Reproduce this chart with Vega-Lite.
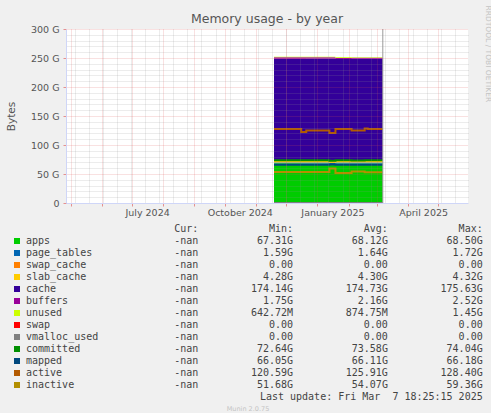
{
  "$schema": "https://vega.github.io/schema/vega-lite/v6.json",
  "background": "#F0F0F0",
  "padding": {"left": 6, "top": 5, "right": 0, "bottom": 0},
  "config": {"view": {"stroke": null}, "font": "DejaVu Sans"},
  "spacing": 7,
  "datasets": {
    "mem": [
      {"date": "2024-11-19", "apps": 68.4, "page_tables": 1.60, "swap_cache": 0, "slab_cache": 4.30, "cache": 174.5, "buffers": 2.50, "unused": 0.80, "swap": 0, "vmalloc_used": 0, "committed": 73.9, "mapped": 66.10, "active": 127.4, "inactive": 53.5},
      {"date": "2024-12-16", "apps": 68.3, "page_tables": 1.65, "swap_cache": 0, "slab_cache": 4.30, "cache": 174.6, "buffers": 2.45, "unused": 0.90, "swap": 0, "vmalloc_used": 0, "committed": 73.7, "mapped": 66.05, "active": 122.6, "inactive": 53.5},
      {"date": "2024-12-21", "apps": 68.2, "page_tables": 1.62, "swap_cache": 0, "slab_cache": 4.31, "cache": 174.8, "buffers": 2.40, "unused": 0.80, "swap": 0, "vmalloc_used": 0, "committed": 73.5, "mapped": 66.10, "active": 125.2, "inactive": 53.5},
      {"date": "2025-01-13", "apps": 67.4, "page_tables": 1.72, "swap_cache": 0, "slab_cache": 4.32, "cache": 175.6, "buffers": 2.30, "unused": 0.70, "swap": 0, "vmalloc_used": 0, "committed": 72.7, "mapped": 66.18, "active": 120.6, "inactive": 59.3},
      {"date": "2025-01-19", "apps": 68.1, "page_tables": 1.64, "swap_cache": 0, "slab_cache": 4.29, "cache": 174.3, "buffers": 1.85, "unused": 1.20, "swap": 0, "vmalloc_used": 0, "committed": 73.6, "mapped": 66.10, "active": 127.4, "inactive": 51.7},
      {"date": "2025-02-04", "apps": 68.0, "page_tables": 1.62, "swap_cache": 0, "slab_cache": 4.30, "cache": 174.8, "buffers": 1.80, "unused": 0.90, "swap": 0, "vmalloc_used": 0, "committed": 73.4, "mapped": 66.10, "active": 125.2, "inactive": 54.5},
      {"date": "2025-02-17", "apps": 68.2, "page_tables": 1.66, "swap_cache": 0, "slab_cache": 4.30, "cache": 174.6, "buffers": 1.80, "unused": 0.80, "swap": 0, "vmalloc_used": 0, "committed": 73.8, "mapped": 66.10, "active": 128.4, "inactive": 53.2},
      {"date": "2025-02-20", "apps": 68.1, "page_tables": 1.64, "swap_cache": 0, "slab_cache": 4.30, "cache": 174.7, "buffers": 1.80, "unused": 0.90, "swap": 0, "vmalloc_used": 0, "committed": 73.6, "mapped": 66.10, "active": 127.4, "inactive": 53.2},
      {"date": "2025-03-07", "apps": 68.1, "page_tables": 1.64, "swap_cache": 0, "slab_cache": 4.30, "cache": 174.7, "buffers": 1.80, "unused": 0.90, "swap": 0, "vmalloc_used": 0, "committed": 73.6, "mapped": 66.10, "active": 127.4, "inactive": 53.2}
    ],
    "now": [{"date": "2025-03-07"}],
    "legend": [
      {"series": "apps", "Cur": "-nan\u00a0", "Min": "67.31G", "Avg": "68.12G", "Max": "68.50G"},
      {"series": "page_tables", "Cur": "-nan\u00a0", "Min": "1.59G", "Avg": "1.64G", "Max": "1.72G"},
      {"series": "swap_cache", "Cur": "-nan\u00a0", "Min": "0.00\u00a0", "Avg": "0.00\u00a0", "Max": "0.00\u00a0"},
      {"series": "slab_cache", "Cur": "-nan\u00a0", "Min": "4.28G", "Avg": "4.30G", "Max": "4.32G"},
      {"series": "cache", "Cur": "-nan\u00a0", "Min": "174.14G", "Avg": "174.73G", "Max": "175.63G"},
      {"series": "buffers", "Cur": "-nan\u00a0", "Min": "1.75G", "Avg": "2.16G", "Max": "2.52G"},
      {"series": "unused", "Cur": "-nan\u00a0", "Min": "642.72M", "Avg": "874.75M", "Max": "1.45G"},
      {"series": "swap", "Cur": "-nan\u00a0", "Min": "0.00\u00a0", "Avg": "0.00\u00a0", "Max": "0.00\u00a0"},
      {"series": "vmalloc_used", "Cur": "-nan\u00a0", "Min": "0.00\u00a0", "Avg": "0.00\u00a0", "Max": "0.00\u00a0"},
      {"series": "committed", "Cur": "-nan\u00a0", "Min": "72.64G", "Avg": "73.58G", "Max": "74.04G"},
      {"series": "mapped", "Cur": "-nan\u00a0", "Min": "66.05G", "Avg": "66.11G", "Max": "66.18G"},
      {"series": "active", "Cur": "-nan\u00a0", "Min": "120.59G", "Avg": "125.91G", "Max": "128.40G"},
      {"series": "inactive", "Cur": "-nan\u00a0", "Min": "51.68G", "Avg": "54.07G", "Max": "59.36G"}
    ],
    "header": [
      {"col": "Cur", "text": "Cur:\u00a0\u00a0"},
      {"col": "Min", "text": "Min:\u00a0\u00a0"},
      {"col": "Avg", "text": "Avg:\u00a0\u00a0"},
      {"col": "Max", "text": "Max:\u00a0\u00a0"}
    ],
    "footer": [{"text": "Last update: Fri Mar\u00a0\u00a07 18:25:15 2025"}]
  },
  "vconcat": [
    {
      "width": 402,
      "height": 174,
      "view": {"fill": "#FFFFFF", "stroke": null},
      "title": {"text": "Memory usage - by year", "font": "DejaVu Sans", "fontSize": 12.5, "fontWeight": "normal", "color": "#555555", "anchor": "middle", "offset": 4, "dy": 24},
      "layer": [
        {
          "data": {"name": "mem"},
          "transform": [
            {"fold": ["apps", "page_tables", "swap_cache", "slab_cache", "cache", "buffers", "unused", "swap"], "as": ["series", "value"]},
            {"window": [{"op": "row_number", "as": "stack_rank"}], "groupby": ["date"]}
          ],
          "mark": {"type": "area", "interpolate": "step-after"},
          "encoding": {
            "x": {"field": "date", "type": "temporal",
              "scale": {"type": "utc", "domain": [{"year": 2024, "month": 4, "date": 26, "hours": 12, "utc": true}, {"year": 2025, "month": 5, "date": 30, "hours": 14, "utc": true}]},
              "axis": {"orient": "bottom", "title": null, "labels": false, "ticks": false, "domain": false, "grid": true, "gridColor": "#8F8F8F", "gridOpacity": 0.35, "gridDash": [1, 1], "zindex": 1,
                "values": [
                  {"year": 2024, "month": 5, "date": 5, "utc": true}, {"year": 2024, "month": 5, "date": 19, "utc": true},
                  {"year": 2024, "month": 6, "date": 2, "utc": true}, {"year": 2024, "month": 6, "date": 16, "utc": true},
                  {"year": 2024, "month": 6, "date": 30, "utc": true}, {"year": 2024, "month": 7, "date": 14, "utc": true},
                  {"year": 2024, "month": 7, "date": 28, "utc": true}, {"year": 2024, "month": 8, "date": 11, "utc": true},
                  {"year": 2024, "month": 8, "date": 25, "utc": true}, {"year": 2024, "month": 9, "date": 8, "utc": true},
                  {"year": 2024, "month": 9, "date": 22, "utc": true}, {"year": 2024, "month": 10, "date": 6, "utc": true},
                  {"year": 2024, "month": 10, "date": 20, "utc": true}, {"year": 2024, "month": 11, "date": 3, "utc": true},
                  {"year": 2024, "month": 11, "date": 17, "utc": true}, {"year": 2024, "month": 12, "date": 1, "utc": true},
                  {"year": 2024, "month": 12, "date": 15, "utc": true}, {"year": 2024, "month": 12, "date": 29, "utc": true},
                  {"year": 2025, "month": 1, "date": 12, "utc": true}, {"year": 2025, "month": 1, "date": 26, "utc": true},
                  {"year": 2025, "month": 2, "date": 9, "utc": true}, {"year": 2025, "month": 2, "date": 23, "utc": true},
                  {"year": 2025, "month": 3, "date": 9, "utc": true}, {"year": 2025, "month": 3, "date": 23, "utc": true},
                  {"year": 2025, "month": 4, "date": 6, "utc": true}, {"year": 2025, "month": 4, "date": 20, "utc": true},
                  {"year": 2025, "month": 5, "date": 4, "utc": true}, {"year": 2025, "month": 5, "date": 18, "utc": true}
                ]}},
            "y": {"field": "value", "type": "quantitative", "stack": "zero",
              "scale": {"domain": [0, 300], "nice": false},
              "axis": {"orient": "right", "labels": false, "ticks": false, "domain": false, "grid": true, "gridColor": "#8F8F8F", "gridOpacity": 0.35, "gridDash": [1, 1], "zindex": 1,
                "values": [10, 20, 30, 40, 60, 70, 80, 90, 110, 120, 130, 140, 160, 170, 180, 190, 210, 220, 230, 240, 260, 270, 280, 290],
                "title": "RRDTOOL / TOBI OETIKER", "titleFont": "DejaVu Sans", "titleFontSize": 7.5, "titleFontWeight": "normal", "titleColor": "#C4C4C4", "titleAngle": 90, "titleAlign": "left", "titleBaseline": "middle", "titleX": 19, "titleY": -24}},
            "order": {"field": "stack_rank", "type": "quantitative", "sort": "ascending"},
            "color": {"field": "series", "type": "nominal", "legend": null,
              "scale": {"domain": ["apps", "page_tables", "swap_cache", "slab_cache", "cache", "buffers", "unused", "swap", "vmalloc_used", "committed", "mapped", "active", "inactive"],
                "range": ["#00CC00", "#0066B3", "#FF8000", "#FFCC00", "#330099", "#990099", "#CCFF00", "#FF0000", "#808080", "#008F00", "#00487D", "#B35A00", "#B38F00"]}}
          }
        },
        {
          "data": {"name": "mem"},
          "transform": [{"fold": ["vmalloc_used", "committed", "mapped", "active", "inactive"], "as": ["series", "value"]}],
          "mark": {"type": "line", "interpolate": "step-after", "strokeWidth": 2},
          "encoding": {
            "x": {"field": "date", "type": "temporal",
              "axis": {"orient": "bottom", "title": null, "labels": false, "ticks": true, "tickColor": "#DE5050", "tickOpacity": 0.6, "tickSize": 3, "domain": true, "domainColor": "#CFD6F8", "grid": true, "gridColor": "#DE5050", "gridOpacity": 0.35, "gridDash": [1, 1], "zindex": 1,
                "values": [
                  {"year": 2024, "month": 5, "date": 1, "utc": true}, {"year": 2024, "month": 6, "date": 1, "utc": true},
                  {"year": 2024, "month": 7, "date": 1, "utc": true}, {"year": 2024, "month": 8, "date": 1, "utc": true},
                  {"year": 2024, "month": 9, "date": 1, "utc": true}, {"year": 2024, "month": 10, "date": 1, "utc": true},
                  {"year": 2024, "month": 11, "date": 1, "utc": true}, {"year": 2024, "month": 12, "date": 1, "utc": true},
                  {"year": 2025, "month": 1, "date": 1, "utc": true}, {"year": 2025, "month": 2, "date": 1, "utc": true},
                  {"year": 2025, "month": 3, "date": 1, "utc": true}, {"year": 2025, "month": 4, "date": 1, "utc": true},
                  {"year": 2025, "month": 5, "date": 1, "utc": true}
                ]}},
            "y": {"field": "value", "type": "quantitative",
              "axis": {"orient": "left", "values": [0, 50, 100, 150, 200, 250, 300],
                "labelExpr": "datum.value == 0 ? '0' : datum.value + ' G'",
                "labelFont": "DejaVu Sans", "labelFontSize": 9.5, "labelColor": "#555555", "labelPadding": 4,
                "ticks": true, "tickColor": "#DE5050", "tickOpacity": 0.6, "tickSize": 3,
                "domain": true, "domainColor": "#CFD6F8",
                "grid": true, "gridColor": "#DE5050", "gridOpacity": 0.35, "gridDash": [1, 1], "zindex": 1,
                "title": "Bytes", "titleFont": "DejaVu Sans", "titleFontSize": 10.5, "titleFontWeight": "normal", "titleColor": "#555555", "titlePadding": 14}},
            "color": {"field": "series", "type": "nominal", "legend": null}
          }
        },
        {
          "data": {"name": "now"},
          "mark": {"type": "rule", "color": "#9A9A9A", "strokeWidth": 1},
          "encoding": {
            "x": {"field": "date", "type": "temporal",
              "axis": {"orient": "bottom", "title": null, "format": "%B %Y", "labelFont": "DejaVu Sans", "labelFontSize": 9.5, "labelColor": "#555555", "labelPadding": 4, "labelFlush": false, "labelOverlap": false, "ticks": false, "grid": false, "domain": false,
                "values": [
                  {"year": 2024, "month": 7, "date": 16, "utc": true}, {"year": 2024, "month": 10, "date": 16, "utc": true},
                  {"year": 2025, "month": 1, "date": 16, "utc": true}, {"year": 2025, "month": 4, "date": 16, "utc": true}
                ]}}
          }
        }
      ],
      "resolve": {"axis": {"x": "independent", "y": "independent"}}
    },
    {
      "width": 364,
      "height": 168,
      "title": {"text": "Munin 2.0.75", "orient": "bottom", "anchor": "middle", "frame": "group", "font": "DejaVu Sans", "fontSize": 6.5, "fontWeight": "normal", "color": "#C4C4C4", "offset": 4},
      "layer": [
        {
          "data": {"name": "legend"},
          "mark": {"type": "square", "size": 36, "opacity": 1},
          "encoding": {
            "x": {"datum": "swatch", "type": "nominal", "scale": {"type": "point", "domain": ["swatch", "name"], "range": [-49, -40], "padding": 0}, "axis": null},
            "y": {"field": "series", "type": "nominal", "scale": {"type": "point", "padding": 0, "domain": ["header", "apps", "page_tables", "swap_cache", "slab_cache", "cache", "buffers", "unused", "swap", "vmalloc_used", "committed", "mapped", "active", "inactive", "lastupdate"]}, "axis": null},
            "color": {"field": "series", "type": "nominal", "legend": null,
              "scale": {"domain": ["apps", "page_tables", "swap_cache", "slab_cache", "cache", "buffers", "unused", "swap", "vmalloc_used", "committed", "mapped", "active", "inactive"],
                "range": ["#00CC00", "#0066B3", "#FF8000", "#FFCC00", "#330099", "#990099", "#CCFF00", "#FF0000", "#808080", "#008F00", "#00487D", "#B35A00", "#B38F00"]}}
          }
        },
        {
          "data": {"name": "legend"},
          "mark": {"type": "text", "align": "left", "baseline": "middle", "font": "DejaVu Sans Mono", "fontSize": 10, "color": "#444444"},
          "encoding": {
            "x": {"datum": "name", "type": "nominal", "scale": {"type": "point", "domain": ["swatch", "name"], "range": [-49, -40], "padding": 0}, "axis": null},
            "y": {"field": "series", "type": "nominal", "axis": null},
            "text": {"field": "series"}
          }
        },
        {
          "data": {"name": "legend"},
          "transform": [{"fold": ["Cur", "Min", "Avg", "Max"], "as": ["col", "text"]}],
          "mark": {"type": "text", "align": "right", "baseline": "middle", "font": "DejaVu Sans Mono", "fontSize": 10, "color": "#444444"},
          "encoding": {
            "x": {"field": "col", "type": "nominal", "scale": {"type": "point", "domain": ["Cur", "Min", "Avg", "Max"], "range": [132.3, 416.7], "padding": 0}, "axis": null},
            "y": {"field": "series", "type": "nominal", "axis": null},
            "text": {"field": "text"}
          }
        },
        {
          "data": {"name": "header"},
          "mark": {"type": "text", "align": "right", "baseline": "middle", "font": "DejaVu Sans Mono", "fontSize": 10, "color": "#444444"},
          "encoding": {
            "x": {"field": "col", "type": "nominal", "scale": {"type": "point", "domain": ["Cur", "Min", "Avg", "Max"], "range": [132.3, 416.7], "padding": 0}, "axis": null},
            "y": {"datum": "header", "type": "nominal", "axis": null},
            "text": {"field": "text"}
          }
        },
        {
          "data": {"name": "footer"},
          "mark": {"type": "text", "align": "right", "baseline": "middle", "font": "DejaVu Sans Mono", "fontSize": 10, "color": "#444444"},
          "encoding": {
            "x": {"datum": "Max", "type": "nominal", "scale": {"type": "point", "domain": ["Cur", "Min", "Avg", "Max"], "range": [132.3, 416.7], "padding": 0}, "axis": null},
            "y": {"datum": "lastupdate", "type": "nominal", "axis": null},
            "text": {"field": "text"}
          }
        }
      ],
      "resolve": {"scale": {"x": "independent"}}
    }
  ]
}
